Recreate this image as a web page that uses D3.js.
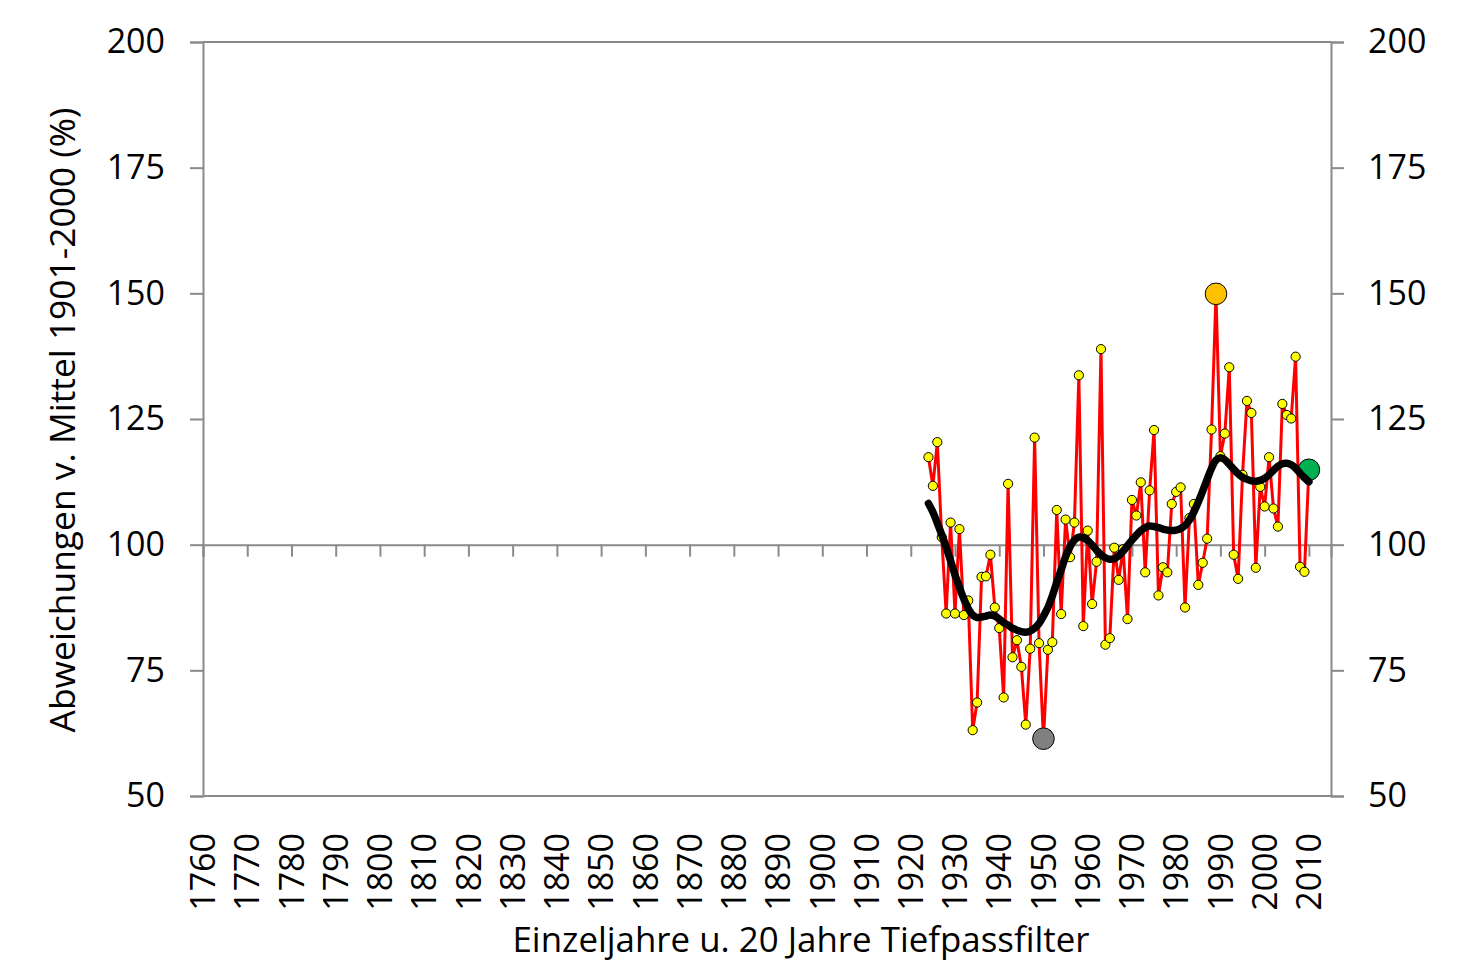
<!DOCTYPE html>
<html><head><meta charset="utf-8">
<script src="https://cdn.jsdelivr.net/npm/d3@7"></script>
<style>
html,body{margin:0;padding:0;background:#fff;}
svg{display:block;}
text{font-family:"Open Sans",sans-serif;fill:#000;}
</style></head><body>
<svg id="chart" width="1478" height="968"></svg>
<script>
const firstYear = 1924;
const values = [
 117.4,111.7,120.4,101.5,86.3,104.4,86.3,103.1,86.0,88.9,
 63.1,68.6,93.6,93.7,98.0,87.5,83.4,69.6,112.1,77.6,
 81.0,75.7,64.2,79.3,121.3,80.4,61.4,79.1,80.6,106.9,
 86.2,105.0,97.5,104.4,133.7,83.8,102.8,88.2,96.6,138.9,
 80.1,81.4,99.4,93.0,99.1,85.2,108.9,105.8,112.4,94.5,
 110.8,122.8,89.9,95.5,94.5,108.1,110.5,111.4,87.5,105.3,
 108.1,92.0,96.4,101.2,122.9,149.9,117.6,122.1,135.3,98.0,
 93.2,113.9,128.6,126.2,95.4,111.5,107.6,117.4,107.2,103.6,
 128.0,125.8,125.1,137.4,95.6,94.6,114.9
];
const smooth = [
 108.2,106.5,104.3,102.0,99.5,96.8,94.0,91.5,89.2,87.3,
 86.0,85.5,85.6,85.8,86.0,85.8,85.2,84.5,84.0,83.4,
 83.0,82.7,82.6,82.8,83.4,84.3,85.8,87.5,89.8,92.5,
 95.0,97.6,99.6,100.9,101.5,101.4,100.8,99.9,98.9,98.0,
 97.4,97.1,97.2,97.8,98.7,99.8,100.9,101.9,102.8,103.4,
 103.7,103.6,103.4,103.1,102.9,102.8,102.9,103.2,103.8,104.9,
 106.5,108.5,110.7,113.0,115.2,116.8,117.3,116.9,116.0,115.0,
 114.1,113.4,113.0,112.7,112.6,112.8,113.2,113.9,114.8,115.6,
 116.1,116.2,115.9,115.2,114.2,113.3,112.5
];
const highlights = [
 {year:1989, color:"#ffc000"},
 {year:1950, color:"#808080"},
 {year:2010, color:"#00b050"}
];
const yTicks = [50,75,100,125,150,175,200];
const xTickYears = [1760,1770,1780,1790,1800,1810,1820,1830,1840,1850,1860,1870,1880,1890,1900,1910,1920,1930,1940,1950,1960,1970,1980,1990,2000,2010];
const yTitle = "Abweichungen v. Mittel 1901-2000 (%)";
const xTitle = "Einzeljahre u. 20 Jahre Tiefpassfilter";

const data = values.map((v,i)=>({year:firstYear+i, v}));
const sdata = smooth.map((v,i)=>({year:firstYear+i, v}));

const svg = d3.select("#chart");
const L=203, R=1331, T=42, B=796;
const x = d3.scaleLinear().domain([1760,2015]).range([L,R]);
const y = d3.scaleLinear().domain([50,200]).range([B,T]);
const axisColor = "#8a8a8a";

const gl = svg.append("g").attr("transform",`translate(${L},0)`)
  .call(d3.axisLeft(y).tickValues(yTicks).tickSize(13).tickPadding(25).tickFormat(d3.format("d")));
const gr = svg.append("g").attr("transform",`translate(${R},0)`)
  .call(d3.axisRight(y).tickValues(yTicks).tickSize(13).tickPadding(24).tickFormat(d3.format("d")));
[gl,gr].forEach(g=>{
  g.select(".domain").attr("stroke",axisColor).attr("stroke-width",2);
  g.selectAll(".tick line").attr("stroke",axisColor).attr("stroke-width",2);
  g.selectAll(".tick text").attr("font-size",34).attr("font-family","Open Sans").attr("fill","#000");
});
[200,50].forEach(v=>{
  svg.append("line").attr("x1",L).attr("x2",R).attr("y1",y(v)).attr("y2",y(v))
    .attr("stroke",axisColor).attr("stroke-width",2);
});
const gx = svg.append("g").attr("transform",`translate(0,${y(100)})`)
  .call(d3.axisBottom(x).tickValues(xTickYears).tickSize(12).tickFormat(""));
gx.select(".domain").attr("stroke",axisColor).attr("stroke-width",2);
gx.selectAll(".tick line").attr("stroke",axisColor).attr("stroke-width",2);

svg.append("g").selectAll("text").data(xTickYears).join("text")
  .attr("transform",d=>`translate(${x(d)},833) rotate(-90)`)
  .attr("text-anchor","end").attr("dy","0.36em")
  .attr("font-size",34).text(d=>d);

svg.append("text").attr("id","xt").attr("x",801).attr("y",952).attr("text-anchor","middle")
  .attr("font-size",32).text(xTitle);
svg.append("text").attr("id","yt").attr("transform","translate(75,420) rotate(-90)").attr("text-anchor","middle")
  .attr("font-size",32).text(yTitle);
function fit(id, target){
  const t = svg.select(id); const w = t.node().getComputedTextLength();
  const fs = +t.attr("font-size"); t.attr("font-size", fs*target/w);
}
fit("#xt",577); fit("#yt",625);

svg.append("path").datum(data)
  .attr("d", d3.line().x(d=>x(d.year)).y(d=>y(d.v)))
  .attr("fill","none").attr("stroke","#ff0000").attr("stroke-width",3).attr("stroke-linejoin","round");
const hlYears = highlights.map(h=>h.year);
svg.append("g").selectAll("circle").data(data.filter(d=>!hlYears.includes(d.year))).join("circle")
  .attr("cx",d=>x(d.year)).attr("cy",d=>y(d.v)).attr("r",4.6)
  .attr("fill","#ffff00").attr("stroke","#000").attr("stroke-width",1);
svg.append("g").selectAll("circle").data(highlights).join("circle")
  .attr("cx",d=>x(d.year)).attr("cy",d=>y(data.find(p=>p.year===d.year).v)).attr("r",10.8)
  .attr("fill",d=>d.color).attr("stroke","#000").attr("stroke-width",1);
svg.append("path").datum(sdata)
  .attr("d", d3.line().x(d=>x(d.year)).y(d=>y(d.v)).curve(d3.curveCatmullRom))
  .attr("fill","none").attr("stroke","#000").attr("stroke-width",7.5).attr("stroke-linecap","round").attr("stroke-linejoin","round");
</script>
</body></html>
